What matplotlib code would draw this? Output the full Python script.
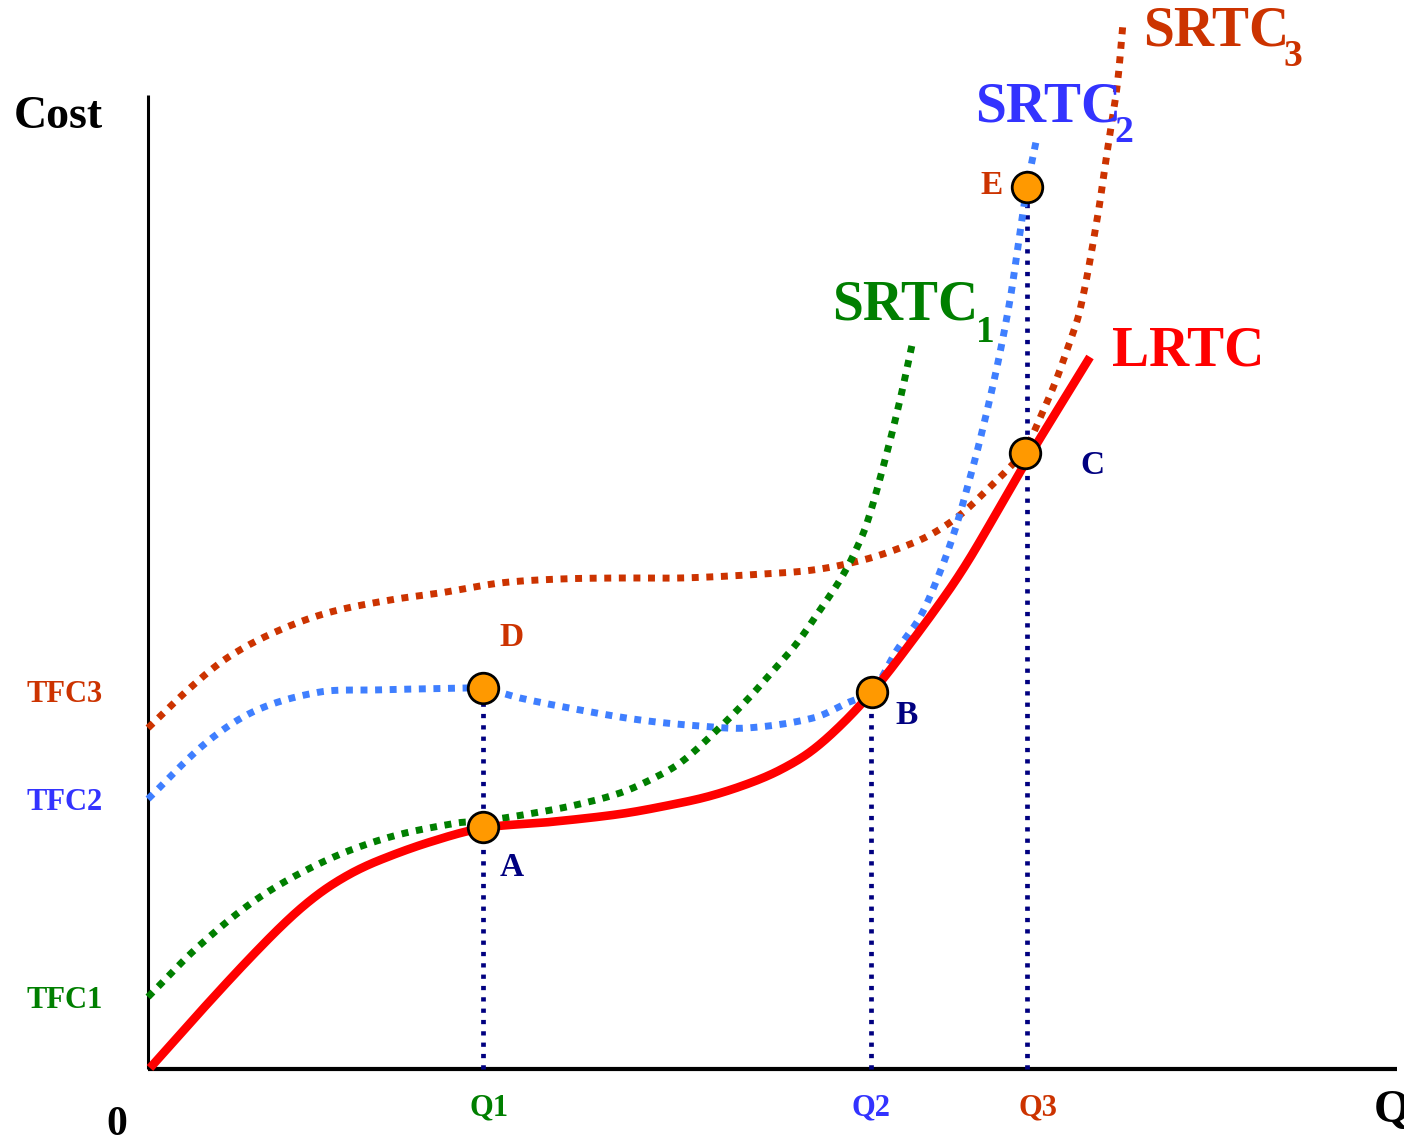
import numpy as np
import matplotlib
matplotlib.use("Agg")
import matplotlib.pyplot as plt

# Coordinates: q = output, c = cost (origin at the axes corner)
lrtc_q = [2, 52, 102, 142, 172, 202, 232, 282, 335, 402, 472, 522, 562, 602, 632, 662, 692, 724, 752,
          799, 825, 879, 942]
lrtc_c = [1, 57, 111, 151, 176, 195, 209, 227, 241, 247, 255, 264, 273, 286, 299, 317, 343, 377, 412,
          476, 516, 609, 712]

srtc1_q = [0, 52, 112, 179, 242, 309, 335, 392, 432, 472, 502, 532, 566, 599, 624, 649, 672, 692,
           706, 719, 737, 752, 764]
srtc1_c = [72, 124, 172, 209, 232, 246, 248, 257, 265, 276, 289, 306, 336, 369, 397, 426, 459, 489,
           515, 546, 609, 669, 724]

srtc2_q = [0, 59, 109, 172, 225, 319, 335, 372, 432, 492, 552, 599, 665, 699, 724, 749, 772, 792,
           807, 820, 832, 849, 862, 869, 879, 889]
srtc2_c = [270, 327, 359, 377, 379, 381, 381, 371, 359, 349, 343, 341, 351, 366, 378, 419, 452, 497,
           539, 584, 629, 702, 769, 816, 882, 932]

srtc3_q = [0, 42, 79, 125, 179, 242, 292, 352, 412, 472, 532, 599, 665, 715, 752, 782, 812, 842,
           862, 877, 892, 907, 919, 932, 949, 959, 969, 975]
srtc3_c = [341, 381, 411, 436, 456, 469, 476, 486, 490, 491, 491, 494, 499, 509, 521, 534, 554, 582,
           602, 619, 651, 686, 719, 759, 849, 916, 982, 1046]

# tangency / intersection points
pt_names = ["A", "B", "C", "D", "E"]
pt_q = [335, 724, 877, 335, 879]
pt_c = [242, 377, 616, 381, 882]

# quantities on the horizontal axis
q_names = ["Q1", "Q2", "Q3"]
q_vals = [335, 723, 879]
q_tops = [381, 377, 882]

# fixed costs on the vertical axis
tfc_names = ["TFC3", "TFC2", "TFC1"]
tfc_vals = [374, 267, 69]

RED = "#FF0000"
GREEN = "#007F00"
BLUE_LINE = "#3F7FFF"
BLUE_TXT = "#3333FF"
BROWN = "#CC3300"
NAVY = "#000080"
ORANGE = "#FF9900"


def smooth(xs, ys, n=30):
    # Hermite curve through the read points, tangents scaled by segment length
    p = np.column_stack([xs, ys]).astype(float)
    p = np.vstack([2 * p[0] - p[1], p, 2 * p[-1] - p[-2]])
    d = np.linalg.norm(np.diff(p, axis=0), axis=1)
    t = np.linspace(0, 1, n, endpoint=False)[:, None]
    h00 = 2 * t ** 3 - 3 * t ** 2 + 1
    h10 = t ** 3 - 2 * t ** 2 + t
    h01 = -2 * t ** 3 + 3 * t ** 2
    h11 = t ** 3 - t ** 2
    out = []
    for i in range(1, len(p) - 2):
        L = d[i]
        m1 = L * (p[i + 1] - p[i - 1]) / (d[i - 1] + d[i])
        m2 = L * (p[i + 2] - p[i]) / (d[i] + d[i + 1])
        out.append(h00 * p[i] + h10 * m1 + h01 * p[i + 1] + h11 * m2)
    out.append(p[-2][None, :])
    out = np.vstack(out)
    return out[:, 0], out[:, 1]


plt.rcParams['font.family'] = ['Liberation Serif', 'DejaVu Serif']
plt.rcParams['font.weight'] = 'bold'

fig = plt.figure(figsize=(14.04, 11.40), dpi=100)
ax = fig.add_axes([0, 0, 1, 1])
ax.set_xlim(-148, 1256)
ax.set_ylim(-71, 1069)
ax.axis('off')

# axes
ax.plot([0, 0], [0, 974], color='black', lw=2.2, solid_capstyle='butt')
ax.plot([0, 1249], [0, 0], color='black', lw=3, solid_capstyle='butt')

dot = dict(lw=5.0, linestyle=(0, (1, 1.1)), dash_capstyle='butt')

# drop lines
for qv, top in zip(q_vals, q_tops):
    ax.plot([qv, qv], [0, top], color=NAVY, lw=3.4, linestyle=(0, (0.9, 1.5)),
            dash_capstyle='butt', zorder=2)

x, y = smooth(srtc3_q, srtc3_c)
ax.plot(x, y, color=BROWN, zorder=3, **dot)
x, y = smooth(srtc2_q, srtc2_c)
ax.plot(x, y, color=BLUE_LINE, zorder=3, **dot)
x, y = smooth(srtc1_q, srtc1_c)
ax.plot(x, y, color=GREEN, zorder=3, **dot)
x, y = smooth(lrtc_q, lrtc_c)
ax.plot(x, y, color=RED, lw=6.2, solid_capstyle='butt', zorder=4)

ax.plot(pt_q, pt_c, 'o', ms=22, mfc=ORANGE, mec='black', mew=2, zorder=5)

# point labels
lab_off = {"A": (29, -41, NAVY), "B": (35, -23, NAVY), "C": (67, -13, NAVY),
           "D": (29, 50, BROWN), "E": (-35, 1, BROWN)}
for name, qv, cv in zip(pt_names, pt_q, pt_c):
    dx, dy, col = lab_off[name]
    ax.text(qv + dx, cv + dy, name, color=col, fontsize=24, ha='center', va='center')

# curve labels
ax.text(-134, 952, "Cost", fontsize=33, ha='left', va='center')
curve_labels = [("SRTC", "3", BROWN, 995, 1037, 1145, 1012),
                ("SRTC", "2", BLUE_TXT, 827, 961, 976, 936),
                ("SRTC", "1", GREEN, 684, 764, 837, 737)]
for main, sub, col, mx, my, sx, sy in curve_labels:
    ax.text(mx, my, main, color=col, fontsize=40, ha='left', va='center')
    ax.text(sx, sy, sub, color=col, fontsize=27, ha='center', va='center')
ax.text(964, 717, "LRTC", color=RED, fontsize=40, ha='left', va='center')

for name, val, col in zip(tfc_names, tfc_vals, [BROWN, BLUE_TXT, GREEN]):
    ax.text(-45, val, name, color=col, fontsize=22, ha='right', va='center')

for name, val, col, off in zip(q_names, q_vals, [GREEN, BLUE_TXT, BROWN], [6, 0, 11]):
    ax.text(val + off, -39, name, color=col, fontsize=22, ha='center', va='center')

ax.text(-31, -56, "0", fontsize=30, ha='center', va='center')
ax.text(1226, -42, "Q", fontsize=34, ha='left', va='center')

fig.savefig("out.png", dpi=100)
